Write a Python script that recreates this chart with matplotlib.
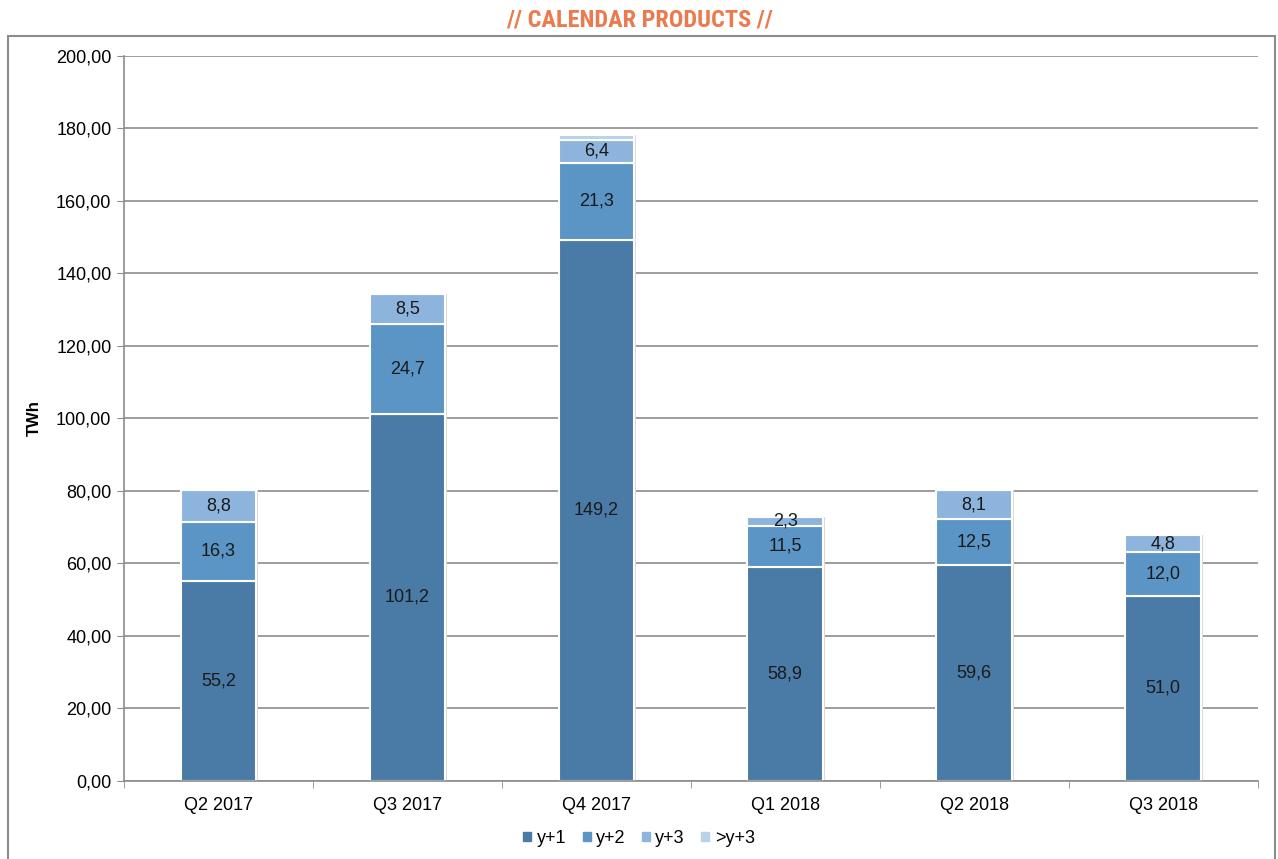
import matplotlib.pyplot as plt
import numpy as np
from matplotlib.patches import Rectangle

plt.rcParams['font.family'] = ['Liberation Sans', 'DejaVu Sans']

# quarterly volumes of calendar products, TWh
quarters = ["Q2 2017", "Q3 2017", "Q4 2017", "Q1 2018", "Q2 2018", "Q3 2018"]
y1 = [55.2, 101.2, 149.2, 58.9, 59.6, 51.0]
y2 = [16.3, 24.7, 21.3, 11.5, 12.5, 12.0]
y3 = [8.8, 8.5, 6.4, 2.3, 8.1, 4.8]
y_beyond = [0.0, 0.0, 1.3, 0.0, 0.0, 0.0]

series = [("y+1", y1, "#4a7ba6"), ("y+2", y2, "#5b95c5"),
          ("y+3", y3, "#8db4dc"), (">y+3", y_beyond, "#b9d1ea")]

fig = plt.figure(figsize=(12.78, 8.59), dpi=100)
ax = fig.add_axes([0.097, 0.091, 0.887, 0.844])

# outer chart frame
fig.add_artist(Rectangle((0.0065, -0.01), 0.991, 0.968, transform=fig.transFigure,
                         fill=False, edgecolor="#8c8c8c", linewidth=1.5))

x = np.arange(len(quarters))
width = 0.40
bottom = np.zeros(len(quarters))
for name, vals, color in series:
    vals = np.array(vals)
    # soft shadow behind each segment
    ax.bar(x + 0.006, vals, width + 0.012, bottom=bottom, color="#d9d9d9",
           zorder=1, linewidth=0)
    bars = ax.bar(x, vals, width, bottom=bottom, color=color, edgecolor="white",
                  linewidth=1.5, label=name, zorder=2)
    if name != ">y+3":
        for xi, b, v in zip(x, bottom, vals):
            ax.text(xi, b + v / 2, f"{v:.1f}".replace(".", ","), ha="center",
                    va="center", fontsize=13, color="#1a1a1a", zorder=3)
    bottom += vals

ax.set_ylim(0, 200)
ax.set_xlim(-0.5, len(quarters) - 0.5)
ax.set_yticks(np.arange(0, 201, 20))
ax.set_yticklabels([f"{v:.2f}".replace(".", ",") for v in np.arange(0, 201, 20)])
ax.set_xticks(x)
ax.set_xticklabels(quarters)
ax.set_xticks(np.arange(-0.5, len(quarters)), minor=True)
ax.tick_params(axis="x", which="major", length=0, pad=12, labelsize=13)
ax.tick_params(axis="x", which="minor", length=5, color="#8c8c8c")
ax.tick_params(axis="y", length=5, color="#8c8c8c", labelsize=13, pad=4)
ax.grid(axis="y", color="#8c8c8c", linewidth=1.2, zorder=0)
ax.set_axisbelow(True)
for side in ["top", "right"]:
    ax.spines[side].set_visible(False)
ax.spines["left"].set_color("#8c8c8c")
ax.spines["bottom"].set_color("#8c8c8c")
ax.spines["left"].set_linewidth(1.2)
ax.spines["bottom"].set_linewidth(1.2)

ax.set_ylabel("TWh", fontsize=12, fontweight="bold", labelpad=10)

fig.text(0.5, 0.977, "// CALENDAR PRODUCTS //", ha="center", va="center",
         fontsize=17.5, fontweight="bold", color="#eb7a4e", family="Roboto Condensed")

handles = [Rectangle((0, 0), 1, 1, color=c) for _, _, c in series]
fig.legend(handles, [n for n, _, _ in series], loc="center", ncol=4,
           bbox_to_anchor=(0.5, 0.024), frameon=False, fontsize=13,
           handlelength=0.45, handleheight=0.45, handletextpad=0.3, columnspacing=0.9)

fig.savefig("out.png", dpi=100)
